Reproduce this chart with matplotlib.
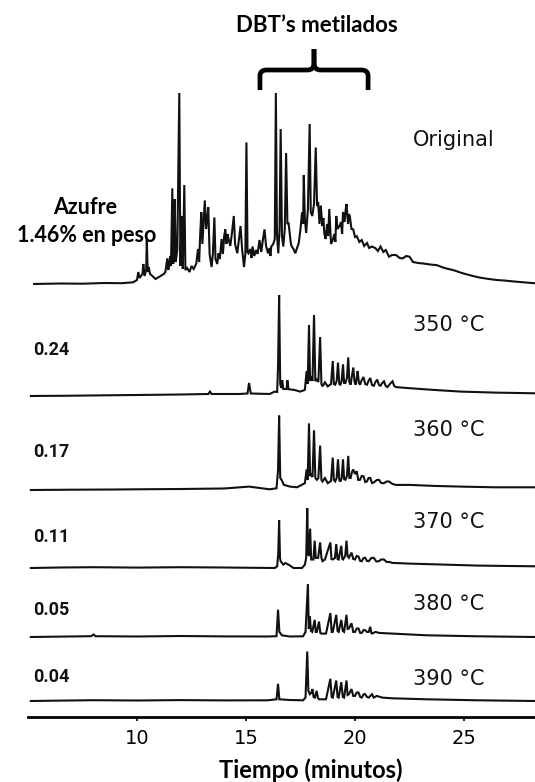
import matplotlib.pyplot as plt
import numpy as np
from matplotlib.path import Path
from matplotlib.patches import PathPatch

# Chromatograms: (retention time [min], response above the trace's own baseline)
original = [
    (5.28, 0), (6.5, 0.5), (7.5, 0.3), (8.5, 1.0), (9.3, 0.8), (9.82, 1.7), (10.0, 4),
    (10.06, 12), (10.12, 6), (10.25, 10), (10.29, 20), (10.35, 8), (10.42, 14), (10.45, 44),
    (10.49, 12), (10.53, 17), (10.6, 10), (10.68, 8.5), (10.85, 5), (10.99, 6.8), (11.15, 9),
    (11.23, 10), (11.3, 12), (11.39, 25.6), (11.43, 14), (11.47, 17), (11.52, 28), (11.56, 18),
    (11.62, 95.6), (11.66, 20), (11.7, 30), (11.73, 85), (11.78, 22), (11.85, 35), (11.94, 191),
    (11.99, 18), (12.05, 68), (12.1, 15), (12.17, 99), (12.22, 14), (12.3, 16), (12.41, 12),
    (12.5, 18), (12.6, 15), (12.72, 20.5), (12.8, 35), (12.85, 22), (12.9, 50), (12.95, 71.7),
    (13.0, 40), (13.05, 60), (13.11, 83.6), (13.17, 55), (13.22, 65), (13.27, 76.8), (13.33, 30),
    (13.42, 17), (13.48, 30), (13.55, 66.6), (13.6, 25), (13.68, 20), (13.74, 30.7), (13.8, 25),
    (13.88, 45), (13.94, 30), (14.0, 48), (14.05, 54.6), (14.1, 40), (14.15, 50), (14.21, 44),
    (14.28, 38), (14.36, 52), (14.44, 68), (14.5, 40), (14.6, 30.7), (14.68, 45), (14.75, 58),
    (14.82, 35), (14.91, 17), (14.97, 30), (15.02, 141.6), (15.07, 32), (15.11, 30.7), (15.2, 35),
    (15.25, 26), (15.3, 37.5), (15.38, 28), (15.46, 34), (15.53, 30), (15.62, 44), (15.7, 32),
    (15.78, 45), (15.85, 54.6), (15.92, 38), (16.01, 30.7), (16.08, 36), (16.12, 28), (16.16, 37.5),
    (16.25, 40), (16.32, 45), (16.37, 191), (16.42, 50), (16.48, 30.7), (16.54, 55), (16.59, 155),
    (16.65, 48), (16.71, 37.5), (16.78, 55), (16.84, 131), (16.9, 60), (16.95, 61.4), (17.02, 48),
    (17.06, 40), (17.1, 37.5), (17.18, 35), (17.26, 30.7), (17.34, 36), (17.42, 41), (17.5, 55),
    (17.57, 71.7), (17.62, 60), (17.65, 109), (17.7, 65), (17.76, 51), (17.84, 75), (17.92, 160),
    (17.97, 72), (18.04, 68), (18.12, 80), (18.2, 136.5), (18.26, 78), (18.31, 82), (18.37, 60),
    (18.43, 78.5), (18.5, 58), (18.55, 66), (18.59, 51), (18.65, 45), (18.72, 60), (18.77, 48),
    (18.82, 75), (18.9, 40), (18.98, 44), (19.05, 50), (19.1, 42), (19.14, 68), (19.2, 55),
    (19.29, 58), (19.36, 62), (19.41, 50), (19.45, 72), (19.52, 62), (19.57, 74), (19.61, 80),
    (19.68, 60), (19.72, 70), (19.76, 68), (19.84, 55), (19.92, 54.6), (20.0, 47), (20.08, 47.8),
    (20.2, 42), (20.31, 44), (20.42, 38), (20.55, 41), (20.65, 36), (20.78, 37.5), (20.94, 35.8),
    (21.05, 33), (21.17, 37.5), (21.3, 32), (21.41, 34), (21.56, 27.3), (21.7, 29), (21.88, 29),
    (22.05, 26), (22.19, 25.6), (22.35, 28), (22.5, 27.3), (22.66, 22), (22.9, 21), (23.13, 20.5),
    (23.45, 19.5), (23.76, 18.8), (24.1, 16), (24.54, 13.7), (24.9, 11), (25.32, 8.5), (25.7, 6.5),
    (26.11, 5.1), (26.5, 4), (26.89, 3.4), (27.3, 2.5), (27.75, 1.7), (28.27, 0.7),
]

run_350 = [
    (5.13, 0), (7.0, 0.3), (9.0, 0.8), (9.98, 1.0), (12.0, 1.5), (13.27, 2), (13.35, 4.4),
    (13.42, 2), (14.68, 2), (15.07, 2.5), (15.14, 13), (15.22, 2.5), (16.08, 2), (16.32, 4.4),
    (16.43, 4), (16.47, 30), (16.52, 101), (16.57, 12), (16.62, 8), (16.66, 15.7), (16.71, 7),
    (16.86, 7), (16.90, 15.7), (16.95, 6.8), (17.21, 6.1), (17.49, 4.4), (17.70, 6.1), (17.78, 25),
    (17.83, 12), (17.89, 71), (17.94, 15), (17.99, 19.8), (18.05, 15), (18.12, 81), (18.18, 15),
    (18.25, 16.4), (18.32, 14), (18.40, 59), (18.46, 12), (18.51, 9.6), (18.62, 13.7), (18.75, 9.6),
    (18.9, 12), (18.98, 35), (19.03, 12), (19.09, 11.3), (19.16, 15), (19.22, 33.4), (19.28, 12),
    (19.33, 11.3), (19.39, 15), (19.45, 31.7), (19.5, 13), (19.56, 13), (19.63, 18), (19.69, 38.6),
    (19.74, 14), (19.80, 11.3), (19.86, 20), (19.92, 28.3), (19.98, 14), (20.03, 11.3), (20.08, 18),
    (20.12, 25), (20.18, 13), (20.23, 11.3), (20.31, 16), (20.39, 19), (20.47, 12), (20.55, 11.3),
    (20.62, 15), (20.70, 18), (20.78, 11), (20.86, 10.2), (20.94, 14), (21.02, 16.4), (21.10, 11),
    (21.17, 10.2), (21.25, 13), (21.33, 14.7), (21.41, 10), (21.49, 8.9), (21.6, 12), (21.72, 14.7),
    (21.8, 10), (21.88, 8.9), (22.5, 7.8), (23.6, 6.1), (24.85, 4.4), (26.42, 3.4), (28.27, 2.7),
]

run_360 = [
    (5.13, 0), (7.0, 0.3), (9.0, 0.5), (9.98, 0.7), (12.0, 1.0), (14.0, 1.5), (15.14, 3.4),
    (16.08, 0.7), (16.40, 1.7), (16.47, 20), (16.52, 74.4), (16.57, 12), (16.63, 10.2),
    (16.74, 5.1), (17.02, 3.4), (17.34, 2.7), (17.70, 6.8), (17.78, 20.5), (17.83, 10),
    (17.89, 66.6), (17.94, 14), (17.99, 15.4), (18.05, 13), (18.12, 59.7), (18.18, 12),
    (18.25, 10.2), (18.32, 12), (18.40, 44.4), (18.46, 10), (18.51, 8.5), (18.62, 12), (18.75, 6.8),
    (18.90, 9), (18.98, 32.4), (19.03, 10), (19.09, 8.5), (19.16, 12), (19.22, 30.7), (19.28, 10),
    (19.33, 8.5), (19.39, 12), (19.45, 30.7), (19.5, 11), (19.56, 10.2), (19.63, 14), (19.69, 34.1),
    (19.74, 12), (19.80, 12), (19.86, 18), (19.92, 20.5), (20.0, 16), (20.08, 18.8), (20.15, 10),
    (20.23, 10.2), (20.31, 14), (20.39, 13.7), (20.47, 8), (20.55, 8.5), (20.62, 12), (20.70, 12),
    (20.78, 7), (20.86, 7.5), (21.0, 10), (21.10, 10.2), (21.2, 7), (21.33, 6.8), (21.45, 8.5),
    (21.56, 8.5), (21.72, 6), (21.88, 5.1), (22.5, 5.1), (23.6, 4.1), (24.85, 3.4), (26.42, 2.7),
    (28.27, 2.7),
]

run_370 = [
    (5.13, 0), (6.5, 0.5), (8.0, 0.8), (10.0, 0.4), (12.0, 0.8), (14.0, 0.5), (16.32, 0),
    (16.43, 1.7), (16.48, 15), (16.52, 47.8), (16.56, 10), (16.59, 6.8), (16.71, 3.4), (16.80, 5),
    (16.95, 3.4), (17.18, 0), (17.57, 0), (17.70, 3.4), (17.76, 10), (17.81, 59.7), (17.85, 14),
    (17.89, 12), (17.94, 39.2), (17.99, 8.5), (18.09, 8.5), (18.15, 27.3), (18.20, 10),
    (18.31, 10.2), (18.40, 25.6), (18.46, 10), (18.51, 6.8), (18.62, 8.5), (18.87, 25.6),
    (18.92, 9), (18.98, 8.5), (19.08, 10), (19.14, 23.9), (19.2, 9), (19.25, 8.5), (19.37, 22.2),
    (19.42, 9), (19.45, 8.5), (19.55, 12), (19.61, 27.3), (19.66, 12), (19.72, 10.2), (19.84, 15.4),
    (19.92, 9), (20.00, 8.5), (20.08, 12), (20.16, 11.5), (20.24, 7), (20.31, 6.8), (20.39, 10),
    (20.47, 10.2), (20.55, 7), (20.63, 6.8), (20.75, 10), (20.86, 10.2), (20.98, 6.5), (21.10, 6.8),
    (21.2, 8.5), (21.33, 8.5), (21.45, 6), (21.56, 6.1), (21.72, 5.1), (22.50, 4.4), (24.07, 3.4),
    (25.64, 2.4), (28.27, 1.7),
]

run_380 = [
    (5.13, 0), (6.5, 0.4), (7.9, 0.8), (8.0, 2.5), (8.1, 0.8), (10.0, 0.5), (12.0, 1.0),
    (14.0, 0.6), (16.0, 0.5), (16.40, 0.8), (16.47, 27.3), (16.53, 5.1), (16.65, 1.7), (17.0, 0.5),
    (17.62, 0.7), (17.73, 5.1), (17.84, 52.9), (17.88, 8), (17.93, 20.5), (17.98, 6), (18.04, 5.1),
    (18.15, 17.1), (18.2, 5), (18.25, 5.1), (18.35, 15.4), (18.41, 4), (18.46, 3.4), (18.67, 3.4),
    (18.87, 23.9), (18.93, 5), (18.98, 5.1), (19.14, 22.2), (19.2, 6), (19.25, 5.1), (19.37, 17.1),
    (19.44, 6), (19.50, 5.1), (19.61, 22.2), (19.66, 8), (19.72, 8.5), (19.84, 13.7), (19.92, 5),
    (20.00, 5.1), (20.08, 8.5), (20.16, 8.5), (20.24, 4), (20.31, 4.1), (20.40, 7), (20.47, 6.8),
    (20.55, 5), (20.63, 5.1), (20.70, 10.2), (20.75, 4), (20.78, 3.4), (20.94, 5.1), (21.10, 4.1),
    (21.72, 3.4), (23.29, 1.7), (25.64, 0.7), (28.27, 0),
]

run_390 = [
    (5.13, 0), (6.5, 0.4), (8.0, 0.8), (10.0, 0.5), (12.0, 0.9), (14.0, 0.6), (16.0, 0.7),
    (16.40, 1.7), (16.47, 17.1), (16.53, 1.7), (17.0, 1.0), (17.62, 0.7), (17.73, 3.4),
    (17.81, 49.5), (17.86, 10.2), (17.93, 6.8), (17.99, 8), (18.05, 11.9), (18.1, 4), (18.16, 3.4),
    (18.24, 10.2), (18.3, 3), (18.35, 1.7), (18.67, 1.7), (18.87, 22.2), (18.93, 4), (18.98, 3.4),
    (19.14, 20.5), (19.2, 4), (19.25, 3.4), (19.37, 18.8), (19.44, 4), (19.50, 3.4), (19.61, 20.5),
    (19.66, 6), (19.72, 6.8), (19.84, 11.9), (19.92, 5), (20.00, 5.1), (20.08, 8.5), (20.16, 8.5),
    (20.24, 4), (20.31, 3.4), (20.40, 6.8), (20.47, 6.8), (20.55, 4), (20.63, 3.4), (20.78, 6.8),
    (20.86, 3.4), (21.0, 5.1), (21.25, 3.4), (21.72, 2.7), (23.29, 1.7), (25.64, 0.7), (28.27, 0),
]

runs = [original, run_350, run_360, run_370, run_380, run_390]
run_names = ["Original", "350 °C", "360 °C", "370 °C", "380 °C", "390 °C"]
sulfur_wt = [None, "0.24", "0.17", "0.11", "0.05", "0.04"]

# vertical layout of the stacked traces (response units)
baselines = [433, 321, 227, 149, 80, 16]
name_y = [577, 392, 287, 195, 113, 38]
sulfur_y = [None, 367, 265, 180, 107, 40]

x_ticks = [10, 15, 20, 25]
dbt_window = (15.64, 20.6)

fig = plt.figure(figsize=(5.35, 7.82), dpi=100)
ax = fig.add_axes([28 / 535, 65 / 782, 507 / 535, 717 / 782])
ax.set_xlim(5.0, 5.0 + 507 / 21.8)
ax.set_ylim(0, 717)

for run, base in zip(runs, baselines):
    arr = np.array(run, dtype=float)
    ax.plot(arr[:, 0], arr[:, 1] + base, color="#111111", lw=1.5,
            solid_joinstyle="miter", clip_on=False)

for name, y in zip(run_names, name_y):
    ax.text(22.66, y, name, fontsize=15, ha="left", va="center",
            family="DejaVu Sans", color="#111111")

for label, y in zip(sulfur_wt, sulfur_y):
    if label is None:
        continue
    ax.text(5.23, y, label, fontsize=13, ha="left", va="center",
            family="Roboto", fontweight="bold", color="#111111")

ax.text(7.6, 510, "Azufre", fontsize=15.5, ha="center", va="center",
        family="Lato", fontweight="bold")
ax.text(7.7, 482, "1.46% en peso", fontsize=15.5, ha="center", va="center",
        family="Lato", fontweight="bold")
ax.text(18.26, 691, "DBT\u2019s metilados", fontsize=16, ha="center", va="center",
        family="Lato", fontweight="bold")
ax.text(17.98, -53, "Tiempo (minutos)", fontsize=17, ha="center", va="center",
        family="Lato", fontweight="bold")

# curly bracket over the methylated DBT window
left, right = dbt_window
mid = (left + right) / 2
r = 0.3
bar, foot, tip = 647, 627, 668
verts = [
    (left, foot), (left, bar - 6), (left, bar), (left + r, bar),
    (mid - r, bar), (mid, bar), (mid, bar + 7), (mid, tip),
]
codes = [Path.MOVETO, Path.LINETO, Path.CURVE3, Path.CURVE3,
         Path.LINETO, Path.CURVE3, Path.CURVE3, Path.LINETO]
for side in (verts, [(2 * mid - x, y) for x, y in verts]):
    ax.add_patch(PathPatch(Path(side, codes), fill=False, lw=3.4,
                           edgecolor="black", capstyle="butt", clip_on=False))

for s in ("left", "top", "right"):
    ax.spines[s].set_visible(False)
ax.spines["bottom"].set_linewidth(2.0)
ax.set_yticks([])
ax.set_xticks(x_ticks)
ax.tick_params(axis="x", length=3, width=1.2, direction="out", pad=6,
               labelsize=14)

fig.savefig("out.png", dpi=100)
